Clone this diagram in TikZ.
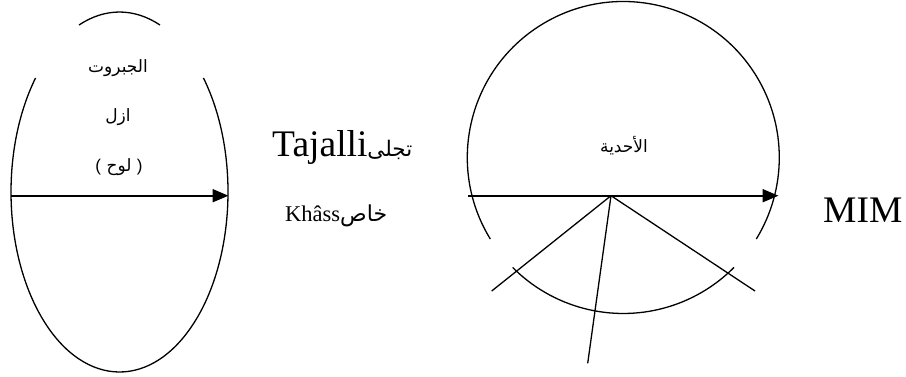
\documentclass[tikz,border=0pt]{standalone}
\usepackage{fontspec}
\setmainfont{Liberation Serif}
\newfontfamily\arabicfont[Script=Arabic]{DejaVu Sans}
\newfontfamily\plainsans{Liberation Sans}
\TeXXeTstate=1
\usetikzlibrary{arrows.meta}
\begin{document}
\begin{tikzpicture}[x=1pt,y=-1pt,
  curve/.style={line width=1.3pt},
  axis/.style={line width=2pt,-{Triangle[length=16pt,width=13pt]}},
  ray/.style={line width=1.3pt},
  arlab/.style={font=\arabicfont\fontsize{17}{20}\selectfont, inner sep=0pt},
  biglat/.style={font=\fontsize{37.5}{42}\selectfont, inner sep=0pt},
  midlat/.style={font=\fontsize{22.5}{26}\selectfont, inner sep=0pt}]
\useasboundingbox (0,0) rectangle (906,376);
% left ellipse (two arcs)
\draw[curve] (79.03,25.0) arc[start angle=-111.9,end angle=-68.1,x radius=108.5,y radius=180];
\draw[curve] (203.46,78.0) arc[start angle=-39.3,end angle=219.3,x radius=108.5,y radius=180];
% right circle (two arcs)
\draw[curve] (490.3,239.0) arc[start angle=148.5,end angle=391.5,radius=156];
\draw[curve] (734.0,267.4) arc[start angle=44.8,end angle=135.2,radius=156];
% arrows
\coordinate (la) at (11,195.7);
\coordinate (lb) at (228.5,195.7);
\coordinate (ra) at (468.3,195.7);
\coordinate (rb) at (778.5,195.7);
\draw[axis] (la) -- (lb);
\draw[axis] (ra) -- (rb);
% rays
\coordinate (hub) at (611,195.7);
\coordinate (r1) at (491.7,291);
\coordinate (r2) at (587.7,363.3);
\coordinate (r3) at (755,291);
\draw[ray] (hub) -- (r1);
\draw[ray] (hub) -- (r2);
\draw[ray] (hub) -- (r3);
% texts
\node[arlab] (jab) at (118,68) {\beginR الجبروت\endR};
\node[arlab] (azl) at (118,117) {\beginR ازل\endR};
\node[arlab] (lwh) at (119,167) {{\plainsans(} \beginR لوح\endR{} {\plainsans)}};
\node[arlab] (ahd) at (624,146) {\beginR الأحدية\endR};
\node[biglat, anchor=base west] (taj) at (272,156.7) {Tajalli{\arabicfont\fontsize{21.5}{24}\selectfont\beginR تجلى\endR}};
\node[midlat, anchor=base west] (kha) at (285,221.7) {Khâss{\arabicfont\fontsize{22}{24}\selectfont\beginR خاص\endR}};
\node[biglat, anchor=base west] (mim) at (823,222.3) {MIM};
\end{tikzpicture}
\end{document}
